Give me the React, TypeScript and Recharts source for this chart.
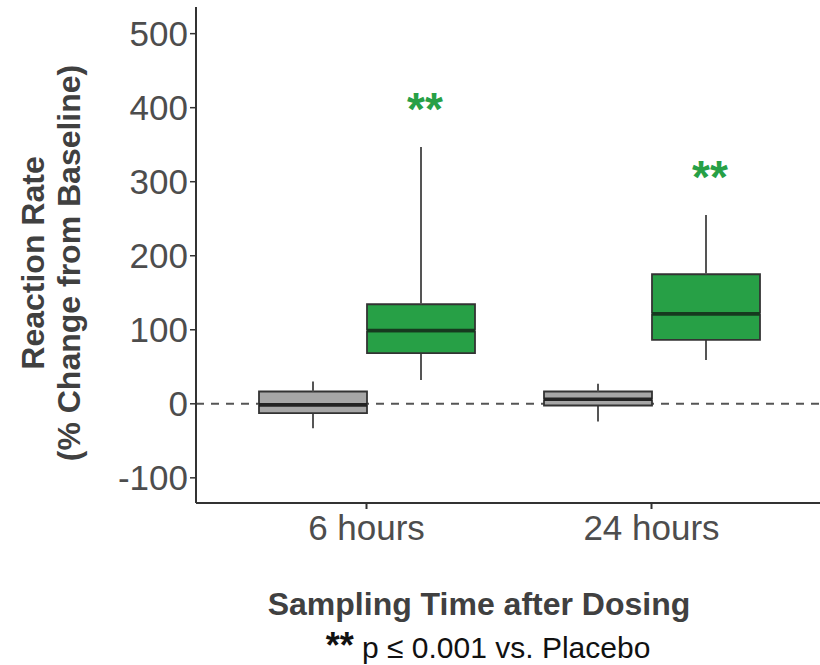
import { ComposedChart, Bar, XAxis, YAxis, CartesianGrid } from 'recharts'

// box plot stats
const timepoints = ['6 hours', '24 hours']
const placeboMin = [-33, -24]
const placeboQ1 = [-12.6, -2.3]
const placeboMedian = [-1.3, 6.3]
const placeboQ3 = [16.6, 16.6]
const placeboMax = [30, 27]
const activeMin = [32, 59]
const activeQ1 = [68.4, 86.4]
const activeMedian = [99, 121.5]
const activeQ3 = [134.5, 175]
const activeMax = [347, 255]
const activeStars = ['**', '**']
const yTicks = [-100, 0, 100, 200, 300, 400, 500]
const yDomain = [-134, 536]
const baseline = [0]

const FONT = '"Liberation Sans", Arial, sans-serif'
const GREY = '#a6a6a6'
const GREEN = '#27a046'
const EDGE = '#333333'

// stacked segments: hidden base -> lower whisker -> lower box -> upper box -> upper whisker
const data = timepoints.map((t, i) => ({
  time: t,
  pBase: placeboMin[i],
  pLoW: placeboQ1[i] - placeboMin[i],
  pLoBox: placeboMedian[i] - placeboQ1[i],
  pHiBox: placeboQ3[i] - placeboMedian[i],
  pHiW: placeboMax[i] - placeboQ3[i],
  aBase: activeMin[i],
  aLoW: activeQ1[i] - activeMin[i],
  aLoBox: activeMedian[i] - activeQ1[i],
  aHiBox: activeQ3[i] - activeMedian[i],
  aHiW: activeMax[i] - activeQ3[i],
}))

const span = (p: any) => {
  const top = Math.min(p.y, p.y + p.height)
  const bot = Math.max(p.y, p.y + p.height)
  return { top, bot, left: p.x, right: p.x + p.width, cx: p.x + p.width / 2 }
}

const Whisker = (p: any) => {
  const s = span(p)
  return <line x1={s.cx} x2={s.cx} y1={s.top} y2={s.bot} stroke="#555" strokeWidth={2} />
}

const UpperWhisker = (stars: string[] | null) => (p: any) => {
  const s = span(p)
  return (
    <g>
      <line x1={s.cx} x2={s.cx} y1={s.top} y2={s.bot} stroke="#555" strokeWidth={2} />
      {stars && (
        <text x={s.cx + 4} y={s.top - 22} textAnchor="middle" fontFamily={FONT} fontWeight="bold" fontSize={46} fill={GREEN}>
          {stars[p.index]}
        </text>
      )}
    </g>
  )
}

const LowerBox = (fill: string, median: string) => (p: any) => {
  const s = span(p)
  return (
    <g>
      <rect x={s.left} y={s.top} width={s.right - s.left} height={s.bot - s.top} fill={fill} />
      <path d={`M${s.left},${s.top} L${s.left},${s.bot} L${s.right},${s.bot} L${s.right},${s.top}`} fill="none" stroke={EDGE} strokeWidth={1.8} />
      <line x1={s.left} x2={s.right} y1={s.top} y2={s.top} stroke={median} strokeWidth={3.5} />
    </g>
  )
}

const UpperBox = (fill: string, median: string) => (p: any) => {
  const s = span(p)
  return (
    <g>
      <rect x={s.left} y={s.top} width={s.right - s.left} height={s.bot - s.top} fill={fill} />
      <path d={`M${s.left},${s.bot} L${s.left},${s.top} L${s.right},${s.top} L${s.right},${s.bot}`} fill="none" stroke={EDGE} strokeWidth={1.8} />
      <line x1={s.left} x2={s.right} y1={s.bot} y2={s.bot} stroke={median} strokeWidth={3.5} />
    </g>
  )
}

const Hidden = () => <g />

export default function App() {
  return (
    <div style={{ position: 'absolute', left: 0, top: 0, width: 820, height: 665, background: '#fff' }}>
      <ComposedChart
        width={820}
        height={665}
        data={data}
        margin={{ top: 7, right: 0, bottom: 102, left: 0 }}
        barGap={0}
        barCategoryGap={35}
      >
        {/* dashed zero line drawn as a grid line, so it sits behind the boxes */}
        <CartesianGrid
          vertical={false}
          horizontalValues={baseline}
          stroke="#555"
          strokeWidth={2}
          strokeDasharray="8 7"
        />
        <XAxis
          dataKey="time"
          height={60}
          padding={{ left: 28, right: 26 }}
          axisLine={{ stroke: EDGE, strokeWidth: 2 }}
          tickLine={{ stroke: EDGE, strokeWidth: 2 }}
          tickSize={6}
          tickMargin={6}
          tick={{ fontSize: 35, fill: '#4d4d4d', fontFamily: FONT }}
        />
        <YAxis
          type="number"
          domain={yDomain}
          allowDataOverflow
          ticks={yTicks}
          width={196}
          axisLine={{ stroke: EDGE, strokeWidth: 2 }}
          tickLine={{ stroke: EDGE, strokeWidth: 1.5 }}
          tickSize={6}
          tickMargin={2}
          tick={{ fontSize: 35, fill: '#4d4d4d', fontFamily: FONT }}
        />
        <Bar dataKey="pBase" stackId="p" shape={Hidden} isAnimationActive={false} />
        <Bar dataKey="pLoW" stackId="p" shape={Whisker} isAnimationActive={false} />
        <Bar dataKey="pLoBox" stackId="p" shape={LowerBox(GREY, '#222')} isAnimationActive={false} />
        <Bar dataKey="pHiBox" stackId="p" shape={UpperBox(GREY, '#222')} isAnimationActive={false} />
        <Bar dataKey="pHiW" stackId="p" shape={UpperWhisker(null)} isAnimationActive={false} />
        <Bar dataKey="aBase" stackId="a" shape={Hidden} isAnimationActive={false} />
        <Bar dataKey="aLoW" stackId="a" shape={Whisker} isAnimationActive={false} />
        <Bar dataKey="aLoBox" stackId="a" shape={LowerBox(GREEN, '#163a1f')} isAnimationActive={false} />
        <Bar dataKey="aHiBox" stackId="a" shape={UpperBox(GREEN, '#163a1f')} isAnimationActive={false} />
        <Bar dataKey="aHiW" stackId="a" shape={UpperWhisker(activeStars)} isAnimationActive={false} />
      </ComposedChart>
      <svg width={820} height={665} style={{ position: 'absolute', left: 0, top: 0, pointerEvents: 'none' }}>
        <g fontFamily={FONT} fontWeight="bold" fontSize={32} fill="#404040" textAnchor="middle">
          <text transform="translate(33,263) rotate(-90)" dominantBaseline="central">Reaction Rate</text>
          <text transform="translate(69,263) rotate(-90)" dominantBaseline="central">(% Change from Baseline)</text>
          <text x={479} y={615}>Sampling Time after Dosing</text>
        </g>
        <text x={488} y={658} textAnchor="middle" fontFamily={FONT} fontSize={30} fill="#111">
          <tspan fontWeight="bold" fontSize={36}>**</tspan>
          <tspan>  p ≤ 0.001 vs. Placebo</tspan>
        </text>
      </svg>
    </div>
  )
}
